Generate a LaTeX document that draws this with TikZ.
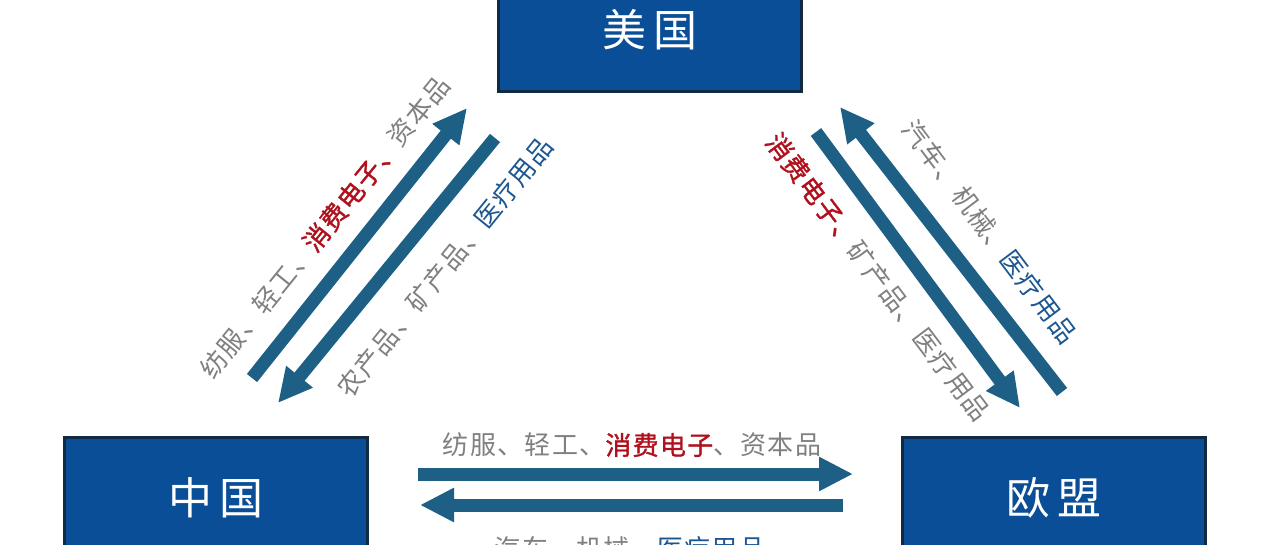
\documentclass[tikz,border=0pt]{standalone}
\usepackage{fontspec}
\setmainfont{Noto Sans CJK SC}[LetterSpace=5]
\newfontfamily\regionfont{Noto Sans CJK SC}
\newfontfamily\hotfont{Noto Sans CJK SC}[LetterSpace=5, FakeBold=1.2]
\usetikzlibrary{arrows.meta, positioning, calc}
\usepackage{xcolor}
\definecolor{boxblue}{HTML}{0B4E98}
\definecolor{boxedge}{HTML}{102A44}
\definecolor{flowcol}{HTML}{1E5F86}
\definecolor{txtgray}{HTML}{808080}
\definecolor{txtred}{HTML}{B0101C}
\definecolor{txtblue}{HTML}{1C5690}
\newcommand{\hotgood}[1]{{\hotfont\textcolor{txtred}{#1}}}
\newcommand{\medgood}[1]{\textcolor{txtblue}{#1}}

\begin{document}
\begin{tikzpicture}[
  x=1pt, y=-1pt,
  region/.style={draw=boxedge, line width=3pt, fill=boxblue, minimum width=303pt, minimum height=122pt, text=white, font=\regionfont\fontsize{44}{44}\selectfont},
  flow/.style={draw=flowcol, line width=13pt, -{Triangle[width=32pt, length=34pt]}},
  goods/.style={text=txtgray, inner sep=0pt, font=\fontsize{26}{26}\selectfont}
]
\clip (0,0) rectangle (1280,544);
\fill[white] (0,0) rectangle (1280,544);

% Regions
\node[region] (usa) at (650,30) {美\hspace{8pt}国};
\node[region] (china) at (216,498) {中\hspace{8pt}国};
\node[region] (eu) at (1054,498) {欧\hspace{8pt}盟};

% China - USA
\coordinate (cu-tail) at (252,378);
\coordinate (cu-tip) at (467,108);
\coordinate (uc-tail) at (495,138);
\coordinate (uc-tip) at (278,403);
\draw[flow] (cu-tail) -- (cu-tip);
\draw[flow] (uc-tail) -- (uc-tip);
\node[goods, rotate=51] (cu-goods) at (325,227) {纺服、轻工、\hotgood{消费电子、}资本品};
\node[goods, rotate=51] (uc-goods) at (445,267) {农产品、矿产品、\medgood{医疗用品}};

% USA - EU
\coordinate (eu-tail) at (1062,392);
\coordinate (eu-tip) at (840,107);
\coordinate (ue-tail) at (816,132);
\coordinate (ue-tip) at (1020,408);
\draw[flow] (eu-tail) -- (eu-tip);
\draw[flow] (ue-tail) -- (ue-tip);
\node[goods, rotate=-53] (ue-goods) at (878,277) {\hotgood{消费电子、}矿产品、医疗用品};
\node[goods, rotate=-53] (eu-goods) at (990,232) {汽车、机械、\medgood{医疗用品}};

% China - EU
\coordinate (ce-tail) at (418,474);
\coordinate (ce-tip) at (853,474);
\coordinate (ec-tail) at (843,505);
\coordinate (ec-tip) at (420,505);
\draw[flow] (ce-tail) -- (ce-tip);
\draw[flow] (ec-tail) -- (ec-tip);
\node[goods] (ce-goods) at (632,445) {纺服、轻工、\hotgood{消费电子}、资本品};
\node[goods] (ec-goods) at (630,549) {汽车、机械、\medgood{医疗用品}};
\end{tikzpicture}
\end{document}
